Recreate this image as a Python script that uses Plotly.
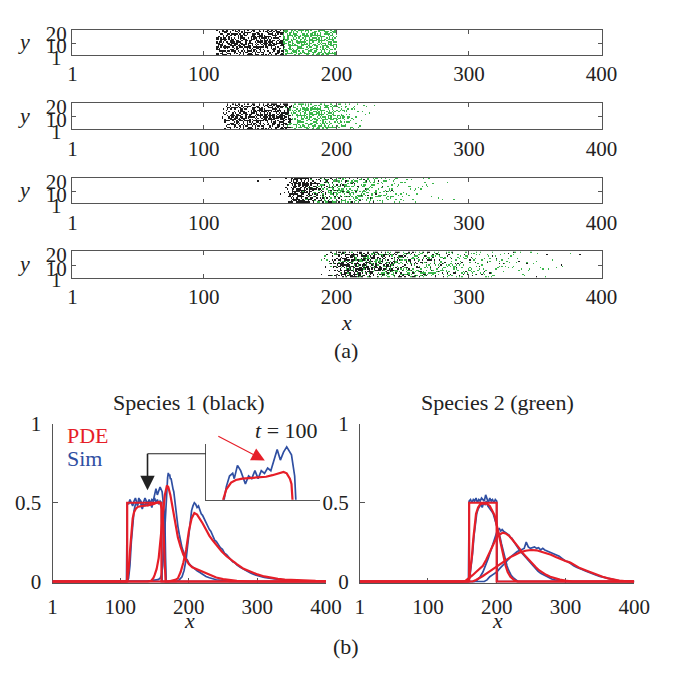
import numpy as np
import plotly.graph_objects as go

W, H = 688, 681
RED = "#e61e28"
BLUE = "#2f4fa2"
BLACK_CELL = "#1c1c1c"
GREEN_CELL = "#39b54a"
AXIS = "#555555"
FONT = "Liberation Serif, Times New Roman, serif"

# ---------------- density profiles, species 1 (black) ----------------
# t0: initial block
x_s1_t0_pde = [1, 110, 110, 160, 160, 400]
y_s1_t0_pde = [0, 0, 0.5, 0.5, 0, 0]
x_s1_t0_sim = [1, 109] + list(range(110, 161, 2)) + [161, 400]
y_s1_t0_sim = [0, 0, 0.50, 0.49, 0.52, 0.50, 0.48, 0.51, 0.53, 0.50, 0.49, 0.52, 0.51, 0.48,
               0.50, 0.53, 0.51, 0.49, 0.52, 0.50, 0.47, 0.51, 0.53, 0.50, 0.52, 0.49, 0.51,
               0.50, 0, 0]

# t1 (t = 100)
x_s1_t1_pde = [1, 108, 110, 112, 114, 116, 118, 120, 123, 126, 130, 135, 140, 145, 149, 153,
               156, 158, 160, 161, 162, 163, 164, 165, 166, 400]
y_s1_t1_pde = [0, 0, 0.01, 0.07, 0.19, 0.32, 0.40, 0.44, 0.465, 0.475, 0.48, 0.482, 0.483,
               0.487, 0.493, 0.50, 0.505, 0.50, 0.48, 0.46, 0.42, 0.30, 0.12, 0.02, 0, 0]
x_s1_t1_sim = [1, 110, 112, 114, 116, 118, 120, 122, 124, 125, 127, 129, 132, 134, 136, 138,
               140, 142, 144, 146, 148, 150, 152, 154, 156, 158, 161, 163, 165, 166, 167, 400]
y_s1_t1_sim = [0, 0, 0.02, 0.10, 0.25, 0.38, 0.45, 0.49, 0.50, 0.48, 0.53, 0.51, 0.46, 0.49,
               0.48, 0.51, 0.48, 0.51, 0.50, 0.52, 0.51, 0.55, 0.59, 0.55, 0.58, 0.60, 0.57,
               0.49, 0.40, 0.15, 0, 0]

# t2
x_s1_t2_pde = [1, 140, 145, 148, 150, 153, 156, 159, 162, 165, 168, 170, 173, 176, 180, 184,
               188, 192, 196, 200, 205, 210, 215, 220, 230, 240, 250, 260, 270, 290, 400]
y_s1_t2_pde = [0, 0, 0.005, 0.02, 0.04, 0.08, 0.15, 0.27, 0.42, 0.55, 0.61, 0.60, 0.55, 0.47,
               0.37, 0.28, 0.22, 0.17, 0.14, 0.11, 0.09, 0.08, 0.07, 0.06, 0.04, 0.025, 0.015,
               0.008, 0.004, 0, 0]
x_s1_t2_sim = [1, 125, 130, 135, 140, 145, 150, 155, 158, 160, 162, 164, 166, 167, 168, 169,
               170, 171, 172, 173, 174, 175, 176, 177, 178, 180, 182, 184, 186, 188, 190, 192,
               194, 196, 198, 200, 203, 206, 209, 212, 215, 218, 221, 225, 230, 235, 240, 250,
               260, 400]
y_s1_t2_sim = [0, 0, 0.004, 0.003, 0.004, 0.005, 0.008, 0.012, 0.02, 0.04, 0.10, 0.25, 0.45,
               0.55, 0.62, 0.66, 0.69, 0.67, 0.68, 0.65, 0.655, 0.62, 0.61, 0.585, 0.57, 0.49,
               0.41, 0.35, 0.30, 0.25, 0.215, 0.19, 0.165, 0.145, 0.135, 0.115, 0.10, 0.088,
               0.078, 0.068, 0.06, 0.05, 0.042, 0.032, 0.024, 0.016, 0.011, 0.005, 0, 0]

# t3
x_s1_t3_pde = [1, 170, 180, 184, 188, 192, 196, 200, 204, 208, 212, 216, 220, 225, 230, 235,
               240, 248, 255, 262, 270, 280, 290, 300, 310, 320, 330, 340, 355, 370, 385, 400]
y_s1_t3_pde = [0, 0, 0.01, 0.02, 0.06, 0.12, 0.20, 0.32, 0.40, 0.435, 0.425, 0.40, 0.37, 0.33,
               0.29, 0.26, 0.23, 0.19, 0.16, 0.135, 0.11, 0.08, 0.06, 0.045, 0.032, 0.023,
               0.017, 0.012, 0.008, 0.005, 0.004, 0.003]
x_s1_t3_sim = [1, 182, 186, 190, 193, 196, 198, 200, 202, 204, 206, 208, 210, 212, 214, 216,
               218, 220, 222, 224, 226, 228, 230, 232, 234, 236, 238, 240, 243, 246, 249, 252,
               255, 258, 261, 264, 267, 270, 275, 280, 285, 290, 295, 300, 310, 320, 330, 340,
               355, 370, 385, 400]
y_s1_t3_sim = [0, 0, 0.01, 0.03, 0.07, 0.14, 0.22, 0.31, 0.39, 0.45, 0.48, 0.50, 0.49, 0.47,
               0.48, 0.45, 0.43, 0.42, 0.40, 0.39, 0.37, 0.35, 0.33, 0.32, 0.30, 0.29, 0.26,
               0.255, 0.235, 0.215, 0.205, 0.18, 0.17, 0.155, 0.145, 0.125, 0.12, 0.105, 0.09,
               0.078, 0.062, 0.054, 0.044, 0.038, 0.026, 0.02, 0.013, 0.009, 0.006, 0.004,
               0.003, 0]

# ---------------- density profiles, species 2 (green) ----------------
x_s2_t0_pde = [1, 160, 160, 200, 200, 400]
y_s2_t0_pde = [0, 0, 0.5, 0.5, 0, 0]
x_s2_t0_sim = [1, 159] + list(range(160, 201, 2)) + [201, 400]
y_s2_t0_sim = [0, 0, 0.51, 0.52, 0.50, 0.52, 0.51, 0.53, 0.50, 0.52, 0.51, 0.53, 0.52, 0.51,
               0.55, 0.52, 0.50, 0.53, 0.51, 0.52, 0.50, 0.52, 0.51, 0, 0]

x_s2_t1_pde = [1, 158, 160, 162, 164, 166, 168, 170, 173, 176, 180, 185, 190, 194, 197, 200,
               202, 204, 207, 210, 213, 216, 220, 225, 230, 400]
y_s2_t1_pde = [0, 0, 0.02, 0.08, 0.16, 0.27, 0.37, 0.43, 0.47, 0.49, 0.495, 0.496, 0.48, 0.45,
               0.42, 0.36, 0.32, 0.28, 0.21, 0.15, 0.10, 0.06, 0.03, 0.01, 0, 0]
x_s2_t1_sim = [1, 159, 161, 163, 165, 167, 169, 171, 173, 175, 177, 179, 181, 183, 185, 187,
               189, 191, 193, 195, 197, 199, 201, 203, 205, 207, 209, 211, 213, 215, 217, 219,
               221, 224, 227, 231, 400]
y_s2_t1_sim = [0, 0, 0.03, 0.09, 0.18, 0.29, 0.38, 0.43, 0.46, 0.48, 0.49, 0.47, 0.50, 0.49,
               0.51, 0.48, 0.47, 0.46, 0.445, 0.43, 0.40, 0.38, 0.35, 0.32, 0.28, 0.24, 0.20,
               0.16, 0.13, 0.10, 0.075, 0.055, 0.04, 0.025, 0.012, 0, 0]

x_s2_t2_pde = [1, 150, 155, 160, 165, 170, 175, 180, 185, 190, 195, 200, 205, 209, 213, 218,
               223, 228, 233, 238, 243, 247, 252, 257, 262, 267, 272, 278, 285, 292, 300, 310, 400]
y_s2_t2_pde = [0, 0, 0.005, 0.02, 0.04, 0.06, 0.08, 0.10, 0.14, 0.19, 0.24, 0.28, 0.30, 0.31,
               0.305, 0.29, 0.265, 0.24, 0.21, 0.18, 0.155, 0.14, 0.115, 0.09, 0.07, 0.055,
               0.042, 0.03, 0.02, 0.012, 0.006, 0, 0]
x_s2_t2_sim = [1, 168, 172, 176, 180, 184, 188, 191, 194, 197, 200, 202, 204, 206, 208, 210,
               212, 214, 216, 218, 220, 222, 224, 226, 228, 230, 233, 236, 239, 242, 245, 248,
               251, 254, 257, 260, 264, 268, 272, 276, 280, 285, 290, 295, 300, 400]
y_s2_t2_sim = [0, 0, 0.01, 0.03, 0.06, 0.10, 0.15, 0.19, 0.23, 0.28, 0.31, 0.33, 0.335, 0.32,
               0.33, 0.32, 0.315, 0.31, 0.30, 0.295, 0.28, 0.275, 0.26, 0.245, 0.235, 0.22,
               0.20, 0.185, 0.17, 0.15, 0.135, 0.12, 0.105, 0.09, 0.078, 0.066, 0.052, 0.042,
               0.032, 0.022, 0.016, 0.01, 0.006, 0.003, 0, 0]

x_s2_t3_pde = [1, 165, 170, 175, 180, 185, 190, 195, 200, 205, 210, 215, 220, 227, 234, 242,
               250, 258, 265, 272, 279, 286, 293, 300, 307, 314, 321, 330, 338, 346, 354, 362,
               370, 378, 386, 395, 400]
y_s2_t3_pde = [0, 0, 0.01, 0.02, 0.035, 0.05, 0.065, 0.08, 0.095, 0.11, 0.125, 0.14, 0.155,
               0.17, 0.185, 0.195, 0.20, 0.198, 0.19, 0.18, 0.17, 0.155, 0.14, 0.13, 0.12, 0.10,
               0.085, 0.07, 0.055, 0.04, 0.03, 0.02, 0.012, 0.006, 0.003, 0, 0]
x_s2_t3_sim = [1, 182, 186, 190, 195, 200, 205, 210, 215, 220, 225, 230, 235, 240, 243, 246,
               249, 252, 255, 258, 261, 264, 267, 270, 273, 276, 279, 282, 285, 288, 291, 294,
               297, 300, 304, 308, 312, 316, 320, 325, 330, 335, 340, 345, 350, 355, 360, 365,
               370, 375, 380, 385, 390, 400]
y_s2_t3_sim = [0, 0, 0.01, 0.03, 0.045, 0.06, 0.085, 0.105, 0.13, 0.155, 0.175, 0.19, 0.20,
               0.21, 0.25, 0.22, 0.21, 0.215, 0.22, 0.21, 0.215, 0.20, 0.21, 0.20, 0.195, 0.19,
               0.185, 0.18, 0.17, 0.165, 0.16, 0.15, 0.14, 0.13, 0.125, 0.11, 0.10, 0.09, 0.085,
               0.075, 0.065, 0.055, 0.047, 0.04, 0.032, 0.026, 0.02, 0.015, 0.01, 0.007, 0.004,
               0.002, 0.001, 0]

SNAPSHOTS = [
    ((x_s1_t0_sim, y_s1_t0_sim), (x_s2_t0_sim, y_s2_t0_sim), (x_s1_t0_pde, y_s1_t0_pde), (x_s2_t0_pde, y_s2_t0_pde)),
    ((x_s1_t1_sim, y_s1_t1_sim), (x_s2_t1_sim, y_s2_t1_sim), (x_s1_t1_pde, y_s1_t1_pde), (x_s2_t1_pde, y_s2_t1_pde)),
    ((x_s1_t2_sim, y_s1_t2_sim), (x_s2_t2_sim, y_s2_t2_sim), (x_s1_t2_pde, y_s1_t2_pde), (x_s2_t2_pde, y_s2_t2_pde)),
    ((x_s1_t3_sim, y_s1_t3_sim), (x_s2_t3_sim, y_s2_t3_sim), (x_s1_t3_pde, y_s1_t3_pde), (x_s2_t3_pde, y_s2_t3_pde)),
]
for snap in SNAPSHOTS:
    for xs, ys in snap:
        assert len(xs) == len(ys), (len(xs), len(ys))

NX, NY = 400, 20
x_ticks = [1, 100, 200, 300, 400]
lattice_y_ticks = [1, 10, 20]
# centred look for the one-digit label in a column of two-digit labels
lattice_y_text = ["1\u2005", "10", "20"]


def column_density(xs, ys, c):
    """Density of the nearest tabulated site."""
    arr = np.asarray(xs, dtype=float)
    return ys[int(np.argmin(np.abs(arr - c)))]


def site_key(c, r):
    """Integer mixing hash used to spread a column's occupied sites over its rows."""
    h = (c * 0x9E3779B1 + (r + 1) * 0x85EBCA77) & 0xFFFFFFFF
    h ^= h >> 16
    h = (h * 0x7FEB352D) & 0xFFFFFFFF
    h ^= h >> 15
    h = (h * 0x846CA68B) & 0xFFFFFFFF
    h ^= h >> 16
    return h


def lattice(sim1, sim2):
    """Occupancy grid (1 = species 1, 2 = species 2) whose column counts follow the profiles."""
    z = [[None] * NX for _ in range(NY)]
    acc1 = acc2 = 0.0
    for c in range(1, NX + 1):
        acc1 += NY * column_density(*sim1, c)
        acc2 += NY * column_density(*sim2, c)
        n1 = int(acc1); acc1 -= n1
        n2 = int(acc2); acc2 -= n2
        n1 = min(n1, NY)
        n2 = min(n2, NY - n1)
        order = sorted(range(NY), key=lambda r: site_key(c, r))
        for r in order[:n1]:
            z[r][c - 1] = 1
        for r in order[n1:n1 + n2]:
            z[r][c - 1] = 2
    return z


def px(p):
    return p / W


def py(p):
    return 1 - p / H


fig = go.Figure()
tick_font = dict(family=FONT, size=21, color="#222222")

# ---------------- (a) lattice snapshots ----------------
panel_px = [(18.3, 45), (95, 122.3), (172.7, 199.3), (249.3, 276.7)]
for k, snap in enumerate(SNAPSHOTS):
    n = k + 1
    sfx = str(n) if n > 1 else ""
    z = lattice(snap[0], snap[1])
    fig.add_trace(go.Heatmap(
        z=z, x=list(range(1, NX + 1)), y=list(range(1, NY + 1)),
        zmin=1, zmax=2, showscale=False, hoverinfo="skip", zsmooth=False,
        colorscale=[[0, BLACK_CELL], [0.5, BLACK_CELL], [0.5, GREEN_CELL], [1, GREEN_CELL]],
        xaxis="x" + sfx, yaxis="y" + sfx))
    top, bot = panel_px[k]
    fig.layout["xaxis" + sfx] = dict(
        domain=[px(69), px(616)], range=[0.5, NX + 0.5], tickvals=x_ticks,
        ticks="inside", ticklen=4, tickcolor=AXIS, showline=True, linecolor=AXIS,
        linewidth=1, mirror="ticks", showgrid=False, zeroline=False, tickfont=tick_font,
        anchor="y" + sfx, ticklabelstandoff=0, fixedrange=True)
    fig.layout["yaxis" + sfx] = dict(
        domain=[py(bot), py(top)], range=[0.5, NY + 0.5], tickvals=lattice_y_ticks,
        ticktext=lattice_y_text,
        ticks="inside", ticklen=4, tickcolor=AXIS, showline=True, linecolor=AXIS,
        linewidth=1, mirror="ticks", showgrid=False, zeroline=False, tickfont=tick_font,
        anchor="x" + sfx, ticklabelshift=3, fixedrange=True)

# ---------------- (b) density profiles ----------------
for species, ax in ((0, "5"), (1, "6")):
    for snap in SNAPSHOTS:
        xs, ys = snap[species]
        fig.add_trace(go.Scatter(x=xs, y=ys, mode="lines", line=dict(color=BLUE, width=1.7),
                                 xaxis="x" + ax, yaxis="y" + ax, hoverinfo="skip", showlegend=False))
    for snap in SNAPSHOTS:
        xs, ys = snap[species + 2]
        fig.add_trace(go.Scatter(x=xs, y=ys, mode="lines", line=dict(color=RED, width=2.2),
                                 xaxis="x" + ax, yaxis="y" + ax, hoverinfo="skip", showlegend=False))

# inset: species 1 at t = 100
fig.add_trace(go.Scatter(x=x_s1_t1_sim, y=y_s1_t1_sim, mode="lines", line=dict(color=BLUE, width=1.7),
                         xaxis="x7", yaxis="y7", hoverinfo="skip", showlegend=False))
fig.add_trace(go.Scatter(x=x_s1_t1_pde, y=y_s1_t1_pde, mode="lines", line=dict(color=RED, width=2.2),
                         xaxis="x7", yaxis="y7", hoverinfo="skip", showlegend=False))

bottom_px = 593 + 0.01 * 164
for ax, (l, r) in (("5", (49, 331)), ("6", (366, 649))):
    fig.layout["xaxis" + ax] = dict(domain=[px(l), px(r)], range=[1, 400], tickvals=x_ticks,
                                    ticks="inside", ticklen=5, tickcolor=AXIS, showline=True,
                                    linecolor=AXIS, linewidth=1, showgrid=False, zeroline=False,
                                    tickfont=tick_font, anchor="y" + ax, layer="below traces",
                                    ticklabelstandoff=5, fixedrange=True)
    fig.layout["yaxis" + ax] = dict(domain=[py(bottom_px), py(429)], range=[-0.01, 1],
                                    tickvals=[0, 0.5, 1], ticktext=["0", "0.5", "1"],
                                    ticks="inside", ticklen=5, tickcolor=AXIS, showline=True,
                                    linecolor=AXIS, linewidth=1, showgrid=False, zeroline=False,
                                    tickfont=tick_font, anchor="x" + ax, layer="below traces",
                                    ticklabelstandoff=6, fixedrange=True)

fig.layout["xaxis7"] = dict(domain=[px(207), px(325)], range=[107, 179], showticklabels=False,
                            ticks="", showline=True, linecolor=AXIS, linewidth=1.2, showgrid=False,
                            zeroline=False, anchor="y7", fixedrange=True)
fig.layout["yaxis7"] = dict(domain=[py(508), py(450)], range=[0.40, 0.61], showticklabels=False,
                            ticks="", showline=True, linecolor=AXIS, linewidth=1.2, showgrid=False,
                            zeroline=False, anchor="x7", fixedrange=True)


def label(text, x, y, size=22, color="#222222", xanchor="center"):
    return dict(text=text, x=px(x), y=py(y), xref="paper", yref="paper", showarrow=False,
                xanchor=xanchor, yanchor="middle", font=dict(family=FONT, size=size, color=color))


annotations = []
for top, bot in panel_px:
    annotations.append(label("<i>y</i>", 20, (top + bot) / 2 - 1))
annotations += [
    label("<i>x</i>", 352, 323),
    label("(a)", 352, 352),
    label("Species 1 (black)", 190, 407),
    label("Species 2 (green)", 508, 407),
    label("PDE", 62, 441, color=RED, xanchor="left"),
    label("Sim", 62, 465, color=BLUE, xanchor="left"),
    label("<i>t</i> = 100", 290, 436),
    label("<i>x</i>", 190, 634),
    label("<i>x</i>", 508, 634),
    label("(b)", 352, 661),
    # red pointer to the inset curve
    dict(text="", x=px(268), y=py(467), xref="paper", yref="paper", showarrow=True,
         ax=-48, ay=-25, arrowhead=2, arrowsize=2.2, arrowwidth=1.2, arrowcolor=RED),
    # black pointer from the inset to the main plateau
    dict(text="", x=px(147), y=py(498), xref="paper", yref="paper", showarrow=True,
         ax=0, ay=-38, arrowhead=2, arrowsize=1.8, arrowwidth=1.6, arrowcolor="#222222"),
]

shapes = [dict(type="line", xref="paper", yref="paper", x0=px(147), y0=py(460), x1=px(207), y1=py(460),
               line=dict(color="#222222", width=1.2))]

fig.update_layout(width=W, height=H, margin=dict(l=0, r=0, t=0, b=0),
                  paper_bgcolor="white", plot_bgcolor="white", showlegend=False,
                  annotations=annotations, shapes=shapes,
                  font=dict(family=FONT, size=21, color="#222222"))

fig.write_html("out.html")
